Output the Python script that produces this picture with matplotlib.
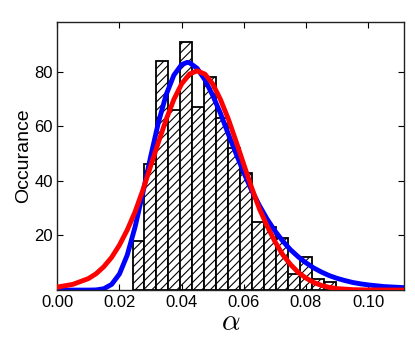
import matplotlib
matplotlib.use("Agg")
import matplotlib.pyplot as plt

plt.rcParams['font.family'] = ['Liberation Sans', 'DejaVu Sans']
plt.rcParams['mathtext.fontset'] = 'cm'
plt.rcParams['hatch.linewidth'] = 0.8

# Histogram data
bin_start = 0.0242
bin_width = 0.003853
counts = [18, 46, 84, 66, 91, 67, 78, 63, 52, 43, 25, 23, 19, 6, 12, 4, 3]

# Blue fit curve
blue_x = [0.000, 0.005, 0.010, 0.0125, 0.015, 0.0175, 0.020, 0.0225, 0.025, 0.0275,
          0.030, 0.0325, 0.035, 0.0375, 0.040, 0.0418, 0.0425, 0.045, 0.0475, 0.050,
          0.0525, 0.055, 0.0575, 0.060, 0.0625, 0.065, 0.0675, 0.070, 0.0725, 0.075,
          0.0775, 0.080, 0.0825, 0.085, 0.0875, 0.090, 0.0925, 0.095, 0.0975, 0.100,
          0.105, 0.1116]
blue_y = [0.0, 0.0, 0.0, 0.07, 0.5, 2.1, 5.9, 12.8, 23.0, 35.4,
          48.7, 61.2, 71.5, 78.7, 82.6, 83.4, 83.3, 81.2, 77.0, 71.3,
          64.7, 57.2, 50.0, 43.0, 36.6, 31.0, 26.0, 21.7, 18.0, 14.8,
          12.2, 10.0, 8.1, 6.6, 5.3, 4.3, 3.5, 2.8, 2.3, 1.9,
          1.3, 0.9]

# Red fit curve
red_x = [0.000, 0.005, 0.010, 0.0125, 0.015, 0.0175, 0.020, 0.0225, 0.025, 0.0275,
         0.030, 0.0325, 0.035, 0.0375, 0.040, 0.0425, 0.045, 0.0475, 0.050, 0.0525,
         0.055, 0.0575, 0.060, 0.0625, 0.065, 0.0675, 0.070, 0.0725, 0.075, 0.0775,
         0.080, 0.0825, 0.085, 0.0875, 0.090, 0.095, 0.100, 0.1116]
red_y = [1.1, 2.1, 4.2, 6.0, 8.6, 12.0, 16.5, 22.0, 28.6, 36.5,
         45.3, 54.0, 62.4, 69.8, 75.5, 79.1, 80.3, 79.1, 75.5, 69.8,
         62.7, 54.5, 46.0, 37.6, 29.8, 23.5, 17.8, 13.0, 9.4, 6.5,
         4.4, 2.8, 1.7, 1.0, 0.55, 0.16, 0.05, 0.0]

xticks = [0.00, 0.02, 0.04, 0.06, 0.08, 0.10]
xtick_labels = ['0.00', '0.02', '0.04', '0.06', '0.08', '0.10']
yticks = [20, 40, 60, 80]

fig = plt.figure(figsize=(4.15, 3.41), dpi=100)
ax = fig.add_axes([0.138, 0.1493, 0.836, 0.7871])

lefts = [bin_start + i * bin_width for i in range(len(counts))]
ax.bar(lefts, counts, width=bin_width, align='edge', facecolor='white',
       edgecolor='black', linewidth=1.3, hatch='////', zorder=1)
ax.plot(blue_x, blue_y, color='#0000ff', lw=3.5, zorder=2)
ax.plot(red_x, red_y, color='#ff0000', lw=3.5, zorder=3)

ax.set_xlim(0, 0.1116)
ax.set_ylim(0, 98.3)
ax.set_xticks(xticks)
ax.set_xticklabels(xtick_labels)
ax.set_yticks(yticks)
ax.tick_params(direction='in', top=True, right=True, length=4, width=0.8,
               labelsize=12)
ax.tick_params(axis='x', pad=3.5)
ax.tick_params(axis='y', pad=3)
for s in ax.spines.values():
    s.set_linewidth(1.0)
    s.set_color('#222222')

ax.set_xlabel(r'$\alpha$', fontsize=21, labelpad=-1)
ax.set_ylabel('Occurance', fontsize=14, labelpad=2)

fig.savefig('out.png', dpi=100)
